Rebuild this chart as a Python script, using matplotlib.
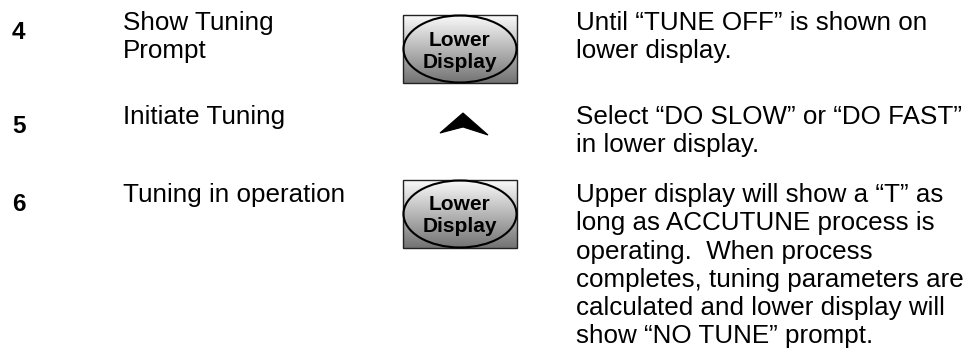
import numpy as np
import matplotlib.pyplot as plt
from matplotlib.patches import Rectangle, Ellipse, Polygon

plt.rcParams['font.family'] = ['Liberation Sans', 'DejaVu Sans']

# procedure steps
steps = ['4', '5', '6']
actions = [['Show Tuning', 'Prompt'],
           ['Initiate Tuning'],
           ['Tuning in operation']]
keys = ['lower', 'up', 'lower']
key_label = ['Lower', 'Display']
results = [
    ['Until \u201cTUNE OFF\u201d is shown on',
     'lower display.'],
    ['Select \u201cDO SLOW\u201d or \u201cDO FAST\u201d',
     'in lower display.'],
    ['Upper display will show a \u201cT\u201d as',
     'long as ACCUTUNE process is',
     'operating.  When process',
     'completes, tuning parameters are',
     'calculated and lower display will',
     'show \u201cNO TUNE\u201d prompt.'],
]

# layout (pixels, top-left origin)
row_base = [30, 124, 202]
key_top = [15, 113, 180]
line_gap = 28.3
x_num, x_act, x_key, x_res = 12, 123, 403, 576
key_w, key_h = 114, 68

fig = plt.figure(figsize=(9.64, 3.6), dpi=100)
ax = fig.add_axes([0, 0, 1, 1])
ax.set_xlim(0, 964)
ax.set_ylim(360, 0)
ax.axis('off')

grad = np.linspace(0.98, 0.45, 100).reshape(-1, 1)

for i in range(len(steps)):
    y0 = row_base[i]
    ax.text(x_num, y0 + 9, steps[i], fontsize=17.5, fontweight='bold',
            va='baseline', ha='left')
    for j, line in enumerate(actions[i]):
        ax.text(x_act, y0 + j * line_gap, line, fontsize=18.7,
                va='baseline', ha='left')
    for j, line in enumerate(results[i]):
        ax.text(x_res, y0 + j * line_gap, line, fontsize=18.7,
                va='baseline', ha='left')

    top = key_top[i]
    if keys[i] == 'lower':
        ax.imshow(grad, cmap='gray', vmin=0, vmax=1, aspect='auto',
                  extent=(x_key, x_key + key_w, top + key_h, top),
                  interpolation='bilinear', zorder=1)
        ax.add_patch(Rectangle((x_key, top), key_w, key_h, fill=False,
                               edgecolor='#222222', lw=1, zorder=2))
        ax.add_patch(Ellipse((x_key + key_w / 2, top + key_h / 2),
                             key_w - 1, key_h - 1, fill=False,
                             edgecolor='black', lw=1.5, zorder=3))
        cx = x_key + key_w / 2
        ax.text(cx, top + 25, key_label[0], fontsize=15, fontweight='bold',
                ha='center', va='center', zorder=4)
        ax.text(cx, top + 47, key_label[1], fontsize=15, fontweight='bold',
                ha='center', va='center', zorder=4)
    else:
        ax.add_patch(Polygon([(440, top + 20), (463, top), (488, top + 22),
                              (463, top + 14)], closed=True,
                             facecolor='black', edgecolor='black', lw=0.8))

fig.savefig('out.png', dpi=100)
